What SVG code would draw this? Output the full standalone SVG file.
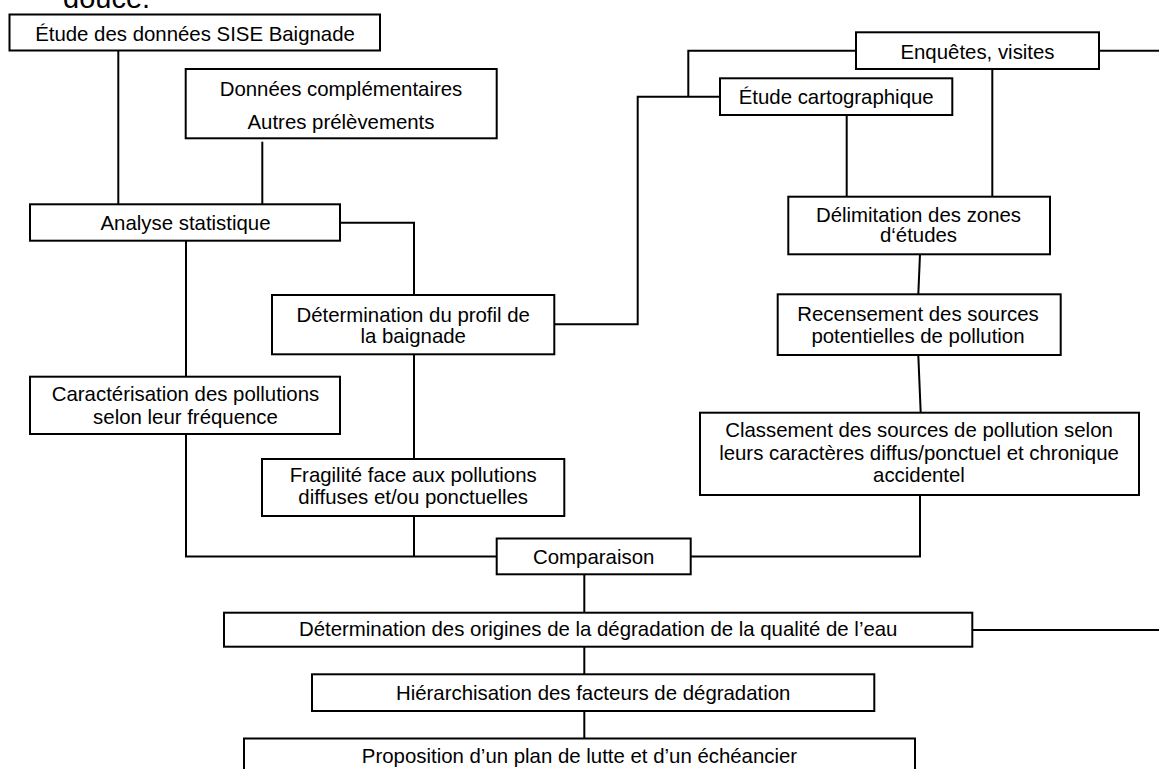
<svg xmlns="http://www.w3.org/2000/svg" width="1159" height="769" viewBox="0 0 1159 769">
<style>
  .box { fill: #ffffff; stroke: #000000; stroke-width: 2; }
  .conn { fill: none; stroke: #000000; stroke-width: 2; }
  text { font-family: "Liberation Sans", Arial, sans-serif; font-size: 20.4px; fill: #000000; text-anchor: middle; }
  .cap { font-size: 29px; text-anchor: start; }
</style>
<rect x="0" y="0" width="1159" height="769" fill="#ffffff"/>
<text class="cap" x="63" y="8">douce.</text>
<g id="connectors">
  <path class="conn" d="M118.3,50.7 V204.3"/>
  <path class="conn" d="M262.3,141.7 V204.3"/>
  <path class="conn" d="M340,222.7 H414 V295"/>
  <path class="conn" d="M186,240.7 V376.7"/>
  <path class="conn" d="M186,434 V556.5 H496.7"/>
  <path class="conn" d="M414,354.3 V459"/>
  <path class="conn" d="M414,516 V556.5"/>
  <path class="conn" d="M554.3,324.3 H637.7 V96.7 H720"/>
  <path class="conn" d="M688.3,96.7 V50.7 H856"/>
  <path class="conn" d="M1099,50.7 H1159"/>
  <path class="conn" d="M846.7,115 V196.7"/>
  <path class="conn" d="M992.3,69 V196.7"/>
  <path class="conn" d="M920,254.3 L918.3,294.3"/>
  <path class="conn" d="M918.3,355 L920.7,412.7"/>
  <path class="conn" d="M920,495 V556.5 H690.7"/>
  <path class="conn" d="M584.3,574.3 V612.7"/>
  <path class="conn" d="M584.3,646.7 V674.3"/>
  <path class="conn" d="M584.3,711 V738.5"/>
  <path class="conn" d="M972.3,630 H1159"/>
</g>
<g id="n-sise">
  <rect class="box" x="9.5" y="14.5" width="370.5" height="36"/>
  <text x="195" y="40.5">Étude des données SISE Baignade</text>
</g>
<g id="n-donnees">
  <rect class="box" x="185.7" y="69" width="311" height="69.3"/>
  <text x="341" y="96">Données complémentaires</text>
  <text x="341" y="129">Autres prélèvements</text>
</g>
<g id="n-analyse">
  <rect class="box" x="30" y="204.3" width="310" height="36.4"/>
  <text x="185.5" y="230">Analyse statistique</text>
</g>
<g id="n-enquetes">
  <rect class="box" x="856" y="32.3" width="243" height="36.7"/>
  <text x="977.5" y="58.5">Enquêtes, visites</text>
</g>
<g id="n-carto">
  <rect class="box" x="720" y="78.3" width="232.3" height="36.7"/>
  <text x="836.2" y="103.5">Étude cartographique</text>
</g>
<g id="n-delimitation">
  <rect class="box" x="788.3" y="196.7" width="261.7" height="57.6"/>
  <text x="918.5" y="221.7">Délimitation des zones</text>
  <text x="918.5" y="242.3">d‘études</text>
</g>
<g id="n-profil">
  <rect class="box" x="272" y="295" width="282.3" height="59.3"/>
  <text x="413.2" y="321.5">Détermination du profil de</text>
  <text x="413.2" y="343">la baignade</text>
</g>
<g id="n-recensement">
  <rect class="box" x="777.7" y="294.3" width="283" height="60.7"/>
  <text x="918" y="320.7">Recensement des sources</text>
  <text x="918" y="343.3">potentielles de pollution</text>
</g>
<g id="n-caracterisation">
  <rect class="box" x="30" y="376.7" width="310" height="57.3"/>
  <text x="185.5" y="401">Caractérisation des pollutions</text>
  <text x="185.5" y="424.3">selon leur fréquence</text>
</g>
<g id="n-classement">
  <rect class="box" x="700" y="412.7" width="439" height="82.3"/>
  <text x="919" y="436.7">Classement des sources de pollution selon</text>
  <text x="919" y="460">leurs caractères diffus/ponctuel et chronique</text>
  <text x="919" y="482.3">accidentel</text>
</g>
<g id="n-fragilite">
  <rect class="box" x="262" y="459" width="302.3" height="57"/>
  <text x="413.2" y="482.3">Fragilité face aux pollutions</text>
  <text x="413.2" y="504.3">diffuses et/ou ponctuelles</text>
</g>
<g id="n-comparaison">
  <rect class="box" x="496.7" y="538.5" width="194" height="35.8"/>
  <text x="593.7" y="563.5">Comparaison</text>
</g>
<g id="n-origines">
  <rect class="box" x="224" y="612.7" width="748.3" height="34"/>
  <text x="598.2" y="636">Détermination des origines de la dégradation de la qualité de l’eau</text>
</g>
<g id="n-hierarchisation">
  <rect class="box" x="312" y="674.3" width="562.3" height="36.7"/>
  <text x="593.2" y="699.5">Hiérarchisation des facteurs de dégradation</text>
</g>
<g id="n-proposition">
  <rect class="box" x="244" y="738.5" width="671" height="45"/>
  <text x="579.5" y="763">Proposition d’un plan de lutte et d’un échéancier</text>
</g>
</svg>
